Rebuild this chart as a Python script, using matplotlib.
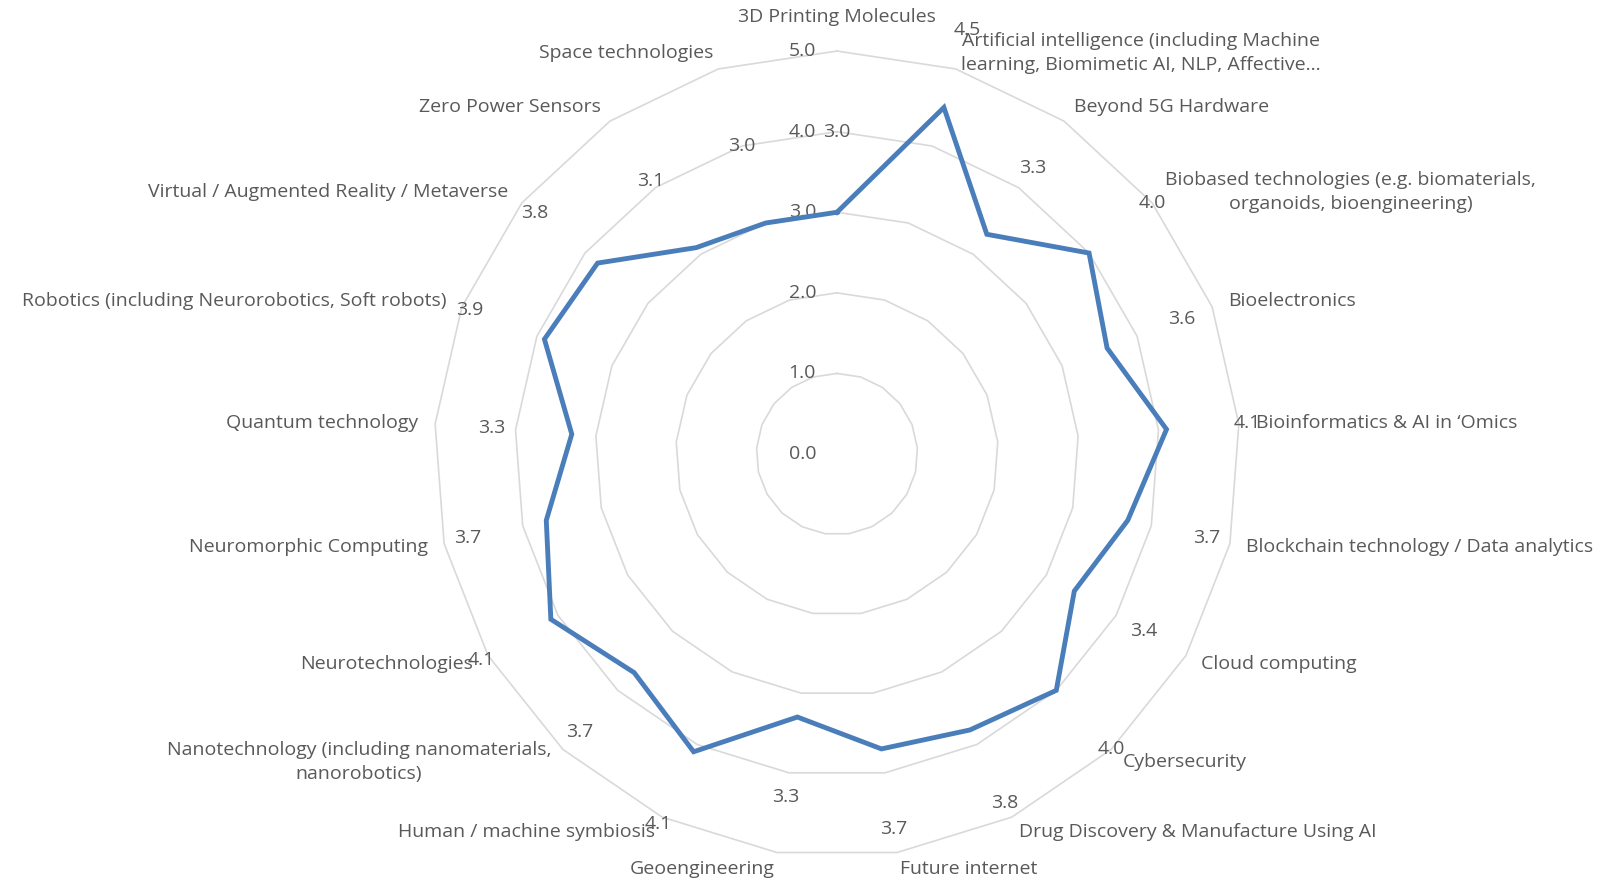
import numpy as np
import matplotlib.pyplot as plt

categories = [
    "3D Printing Molecules",
    "Artificial intelligence (including Machine\nlearning, Biomimetic AI, NLP, Affective\u2026",
    "Beyond 5G Hardware",
    "Biobased technologies (e.g. biomaterials,\norganoids, bioengineering)",
    "Bioelectronics",
    "Bioinformatics & AI in \u2018Omics",
    "Blockchain technology / Data analytics",
    "Cloud computing",
    "Cybersecurity",
    "Drug Discovery & Manufacture Using AI",
    "Future internet",
    "Geoengineering",
    "Human / machine symbiosis",
    "Nanotechnology (including nanomaterials,\nnanorobotics)",
    "Neurotechnologies",
    "Neuromorphic Computing",
    "Quantum technology",
    "Robotics (including Neurorobotics, Soft robots)",
    "Virtual / Augmented Reality / Metaverse",
    "Zero Power Sensors",
    "Space technologies",
]
scores = [3.0, 4.5, 3.3, 4.0, 3.6, 4.1, 3.7, 3.4, 4.0, 3.8, 3.7,
          3.3, 4.1, 3.7, 4.1, 3.7, 3.3, 3.9, 3.8, 3.1, 3.0]
ring_levels = [1, 2, 3, 4, 5]
tick_values = [0, 1, 2, 3, 4, 5]

TEXT = "#595959"
GRID = "#d9d9d9"
LINE = "#4a7ebb"
FS = 14


def main():
    plt.rcParams['font.family'] = ['Open Sans', 'DejaVu Sans']
    fig = plt.figure(figsize=(16.01, 8.83), dpi=100)
    ax = fig.add_axes([0.2711, 0.0294, 0.5034, 0.9128], projection='polar')
    ax.set_theta_zero_location('N')
    ax.set_theta_direction(-1)
    ax.set_ylim(0, 5)
    ax.grid(False)
    ax.spines['polar'].set_visible(False)
    ax.set_xticks([])
    ax.set_yticks([])
    ax.patch.set_alpha(0)

    n = len(categories)
    theta = np.arange(n) * 2 * np.pi / n
    closed = np.append(theta, theta[0])

    # polygon rings
    for lvl in ring_levels:
        ax.plot(closed, [lvl] * (n + 1), color=GRID, lw=1.2, zorder=1, clip_on=False)

    # axis value labels
    for v in tick_values:
        ax.annotate(f"{v:.1f}", xy=(0, v), xytext=(-21, 0), textcoords='offset pixels',
                    ha='right', va='center', fontsize=FS, color=TEXT, annotation_clip=False)

    # data line
    vals = np.append(scores, scores[0])
    ax.plot(closed, vals, color=LINE, lw=3.5, zorder=3, solid_joinstyle='miter', clip_on=False)

    # data labels, one unit outside the point
    for t, s in zip(theta, scores):
        ax.text(t, s + 1.0, f"{s:.1f}", ha='center', va='center', fontsize=FS, color=TEXT, zorder=4)

    # category labels
    for t, name in zip(theta, categories):
        sx, cy = np.sin(t), np.cos(t)
        if abs(sx) < 0.05:
            ha, off = 'center', 34
        else:
            ha, off = ('left' if sx > 0 else 'right'), 17
        ax.annotate(name, xy=(t, 5), xytext=(off * sx, off * cy), textcoords='offset pixels',
                    ha=ha, va='center', multialignment='center', linespacing=1.45,
                    fontsize=FS, color=TEXT, annotation_clip=False)

    fig.savefig('out.png', dpi=100)


if __name__ == '__main__':
    main()
